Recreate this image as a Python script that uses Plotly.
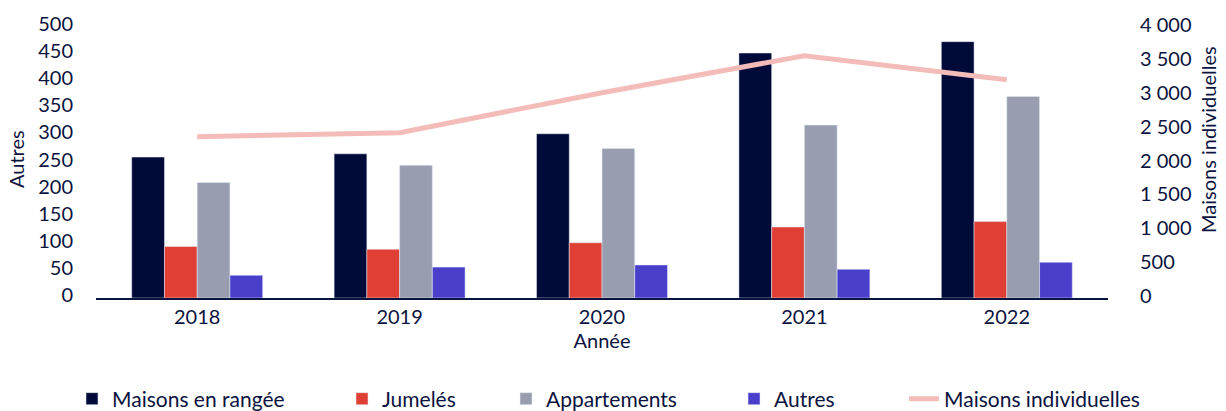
import plotly.graph_objects as go

years = ["2018", "2019", "2020", "2021", "2022"]
maisons_rangee = [260, 266, 303, 452, 473]
jumeles = [95, 90, 102, 131, 141]
appartements = [213, 245, 276, 319, 372]
autres = [42, 57, 61, 53, 66]
maisons_individuelles = [2380, 2440, 3030, 3575, 3220]

left_ticks = [0, 50, 100, 150, 200, 250, 300, 350, 400, 450, 500]
right_ticks = [0, 500, 1000, 1500, 2000, 2500, 3000, 3500, 4000]

TXT = "#0b1340"
FONT = "Lato"

fig = go.Figure()
fig.add_bar(x=years, y=maisons_rangee, name="Maisons en rangée",
            marker_color="#000a38", legendwidth=225)
fig.add_bar(x=years, y=jumeles, name="Jumelés",
            marker_color="#df3f35", legendwidth=119)
fig.add_bar(x=years, y=appartements, name="Appartements",
            marker_color="#989eb0", legendwidth=183)
fig.add_bar(x=years, y=autres, name="Autres",
            marker_color="#4a3fcb", legendwidth=125)
fig.add_scatter(x=years, y=maisons_individuelles, name="Maisons individuelles",
                mode="lines", line=dict(color="#f4bcb8", width=5), yaxis="y2")

H = 271.0
BASE = 298.0

fig.update_layout(
    width=1226, height=411,
    margin=dict(l=96, r=118, t=27, b=113, autoexpand=False),
    paper_bgcolor="white", plot_bgcolor="white",
    font=dict(family=FONT, size=20, color=TXT),
    separators=", ",
    barmode="group", bargap=0.353, bargroupgap=0,
    showlegend=True,
    legend=dict(orientation="h", x=-0.0237, xanchor="left", y=(BASE - 399) / H,
                yanchor="middle", font=dict(size=21, color=TXT), traceorder="normal"),
    xaxis=dict(showline=True, linecolor="#0b1340", linewidth=2, ticks="",
               showgrid=False, zeroline=False, automargin=False,
               title=dict(text="Année", standoff=7, font=dict(size=20))),
    yaxis=dict(range=[0, 500], tickvals=left_ticks, showgrid=False, zeroline=False,
               showline=False, ticks="", ticklabelstandoff=22, ticklabelshift=-3,
               automargin=False),
    yaxis2=dict(range=[0, 4000], tickvals=right_ticks, overlaying="y", side="right",
                tickformat=",d", showgrid=False, zeroline=False, showline=False,
                ticks="", ticklabelstandoff=31, ticklabelshift=-2, automargin=False),
    annotations=[
        dict(text="Autres", textangle=-90, xref="paper", yref="paper",
             x=(16 - 96) / 1012, y=(BASE - 159) / H, xanchor="center", yanchor="middle",
             showarrow=False, font=dict(size=20, color=TXT)),
        dict(text="Maisons individuelles", textangle=-90, xref="paper", yref="paper",
             x=(1208 - 96) / 1012, y=(BASE - 140) / H, xanchor="center", yanchor="middle",
             showarrow=False, font=dict(size=20, color=TXT)),
    ],
)

fig.write_html("out.html")
